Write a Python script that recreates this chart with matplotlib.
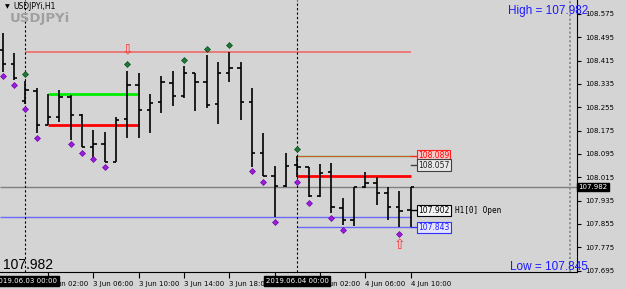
import numpy as np
import matplotlib
matplotlib.use("Agg")
import matplotlib.pyplot as plt

# H1 bars, index 0 = 2019.06.03 00:00
bar_idx = list(range(-2, 35))
opens = [108.450, 108.404, 108.278, 108.312, 108.194, 108.223, 108.291, 108.229, 108.120, 108.128,
         108.069, 108.214, 108.332, 108.246, 108.272, 108.339, 108.295, 108.372, 108.343, 108.266,
         108.372, 108.389, 108.274, 108.097, 108.020, 107.985, 108.057, 108.052, 107.951, 108.033,
         107.909, 107.869, 107.983, 107.997, 107.962, 107.914, 107.902]
highs = [108.509, 108.440, 108.345, 108.320, 108.301, 108.314, 108.297, 108.232, 108.177, 108.171,
         108.223, 108.381, 108.372, 108.301, 108.362, 108.381, 108.397, 108.372, 108.434, 108.409,
         108.446, 108.411, 108.320, 108.166, 108.054, 108.097, 108.089, 108.052, 108.061, 108.063,
         107.943, 107.983, 108.032, 108.015, 107.981, 107.968, 107.982]
lows = [108.376, 108.349, 108.266, 108.166, 108.194, 108.206, 108.143, 108.120, 108.080, 108.069,
        108.069, 108.149, 108.149, 108.168, 108.237, 108.260, 108.286, 108.243, 108.252, 108.197,
        108.343, 108.212, 108.051, 108.021, 107.878, 107.983, 108.017, 107.949, 107.949, 107.892,
        107.852, 107.848, 107.977, 107.920, 107.869, 107.843, 107.845]
closes = [108.404, 108.355, 108.313, 108.194, 108.221, 108.291, 108.229, 108.120, 108.128, 108.069,
          108.212, 108.332, 108.246, 108.271, 108.343, 108.295, 108.372, 108.343, 108.263, 108.372,
          108.389, 108.274, 108.099, 108.021, 107.985, 108.054, 108.050, 107.951, 108.031, 107.914,
          107.869, 107.981, 107.995, 107.962, 107.914, 107.900, 107.982]

# marker dots
up_idx = [0, 9, 14, 16, 18, 24]
up_val = [108.368, 108.403, 108.416, 108.455, 108.469, 108.111]
dn_idx = [-2, -1, 0, 1, 4, 5, 6, 7, 20, 21, 22, 24, 25, 27, 28, 33]
dn_val = [108.362, 108.332, 108.248, 108.151, 108.129, 108.097, 108.078, 108.051, 108.037, 108.000,
          107.862, 108.000, 107.928, 107.875, 107.834, 107.821]

# arrows
arrow_dn = (9, 108.452)
arrow_up = (33, 107.783)

# levels
day_high = 108.446
day_low = 107.878
range_hi, range_lo = 108.301, 108.194
today_hi, today_lo = 108.089, 108.018
today_open = 108.057
bar_open = 107.902
low_level = 107.843
price = 107.982
bar_high, bar_low = 107.982, 107.845

yticks = [108.575, 108.495, 108.415, 108.335, 108.255, 108.175, 108.095, 108.015,
          107.935, 107.855, 107.775, 107.695]
xtick_idx = [2, 6, 10, 14, 18, 22, 26, 30, 34]
xtick_lbl = ['3 Jun 02:00', '3 Jun 06:00', '3 Jun 10:00', '3 Jun 14:00', '3 Jun 18:00',
             '3 Jun 22:00', '4 Jun 02:00', '4 Jun 06:00', '4 Jun 10:00']
sep_idx = [0, 24]
sep_lbl = ['2019.06.03 00:00', '2019.06.04 00:00']

bg = '#d4d4d4'
fig = plt.figure(figsize=(6.25, 2.89), dpi=100, facecolor=bg)
ax = fig.add_axes([0, 17 / 289, 577 / 625, 272 / 289])
ax.set_facecolor(bg)
ax.set_xlim(-2.233, 48.69)
ax.set_ylim(107.6904, 108.623)

for s in ['top', 'left']:
    ax.spines[s].set_visible(False)
ax.spines['right'].set_color('black')
ax.spines['bottom'].set_color('black')

x = np.array(bar_idx, dtype=float)
last = x[-1]

# horizontal levels
ax.hlines(day_high, 0, last, color='#f06a6a', lw=1.2, zorder=1)
ax.hlines(day_low, -2.233, last, color='#6a6aff', lw=1.0, zorder=1)
ax.hlines(price, -2.233, 48.69, color='#808080', lw=1.0, zorder=1)
ax.hlines(range_hi, 2, 10, color='#00ee00', lw=2.0, zorder=2)
ax.hlines(range_lo, 2, 10, color='#ff0000', lw=2.0, zorder=2)
ax.hlines(today_hi, 24, last, color='#60a020', lw=1.0, zorder=2)
ax.hlines(today_hi - 0.002, 24, last, color='#e05030', lw=0.6, zorder=2)
ax.hlines(today_lo, 24, last, color='#ff0000', lw=2.0, zorder=2)
ax.hlines(low_level, 24, last, color='#6a6aff', lw=1.0, zorder=1)

# period separators and shift marker
for s in sep_idx:
    ax.axvline(s, color='black', lw=0.8, ls=(0, (2, 2)), zorder=1)
ax.axvline(48.1, color='#8a8a8a', lw=1.3, ls=(0, (1.2, 1.2)), zorder=1)

# OHLC bars
tk = 0.3
ax.vlines(x, lows, highs, color='black', lw=1.2, zorder=3)
ax.hlines(opens, x - tk, x, color='black', lw=1.2, zorder=3)
ax.hlines(closes, x, x + tk, color='black', lw=1.2, zorder=3)

ax.scatter(up_idx, up_val, marker='D', s=9, color='#1f7a3a', edgecolors='#0a4a1a', lw=0.5, zorder=4)
ax.scatter(dn_idx, dn_val, marker='D', s=9, color='#9a20d8', edgecolors='#7000b0', lw=0.5, zorder=4)

ax.text(arrow_dn[0], arrow_dn[1], '\u21e9', color='#ff3030', fontsize=10, ha='center', va='center', zorder=4)
ax.text(arrow_up[0], arrow_up[1], '\u21e7', color='#ff3030', fontsize=10, ha='center', va='center', zorder=4)

# right-side labels
lx = last + 0.66
labels = [(today_hi, '108.089', '#ff0000', '#ffc8c8', '#ff2020'),
          (today_open, '108.057', '#202020', '#e8e8e8', '#404040'),
          (bar_open, '107.902', '#000000', '#f4f4f4', '#000000'),
          (low_level, '107.843', '#2020ff', '#e4e4ff', '#3030ff')]
for val, txt, tc, fc, ec in labels:
    ax.plot([last, lx], [val, val], color=ec, lw=1.0, zorder=3)
    ax.text(lx, val, txt, color=tc, fontsize=5.5, ha='left', va='center', zorder=5,
            bbox=dict(boxstyle='square,pad=0.15', facecolor=fc, edgecolor=ec, lw=0.8))
ax.text(37.9, bar_open, 'H1[0] Open', family='DejaVu Sans Mono', fontsize=5.5,
        ha='left', va='center', color='black')

# axes ticks
ax.yaxis.tick_right()
ax.set_yticks(yticks)
ax.set_yticklabels([f'{v:.3f}' for v in yticks], fontsize=5, family='DejaVu Sans')
ax.tick_params(axis='y', length=3, pad=3, color='black')
ax.set_xticks(xtick_idx)
ax.set_xticklabels(xtick_lbl, fontsize=5, ha='left')
ax.tick_params(axis='x', length=4, pad=2.5, color='black')

# current price box on the price axis
ax.text(1.002, price, '107.982', transform=ax.get_yaxis_transform(), fontsize=5,
        color='white', ha='left', va='center', zorder=6, clip_on=False,
        bbox=dict(boxstyle='square,pad=0.2', facecolor='black', edgecolor='black'))

# separator date labels (drawn over the time labels, as in the terminal)
for s, lb in zip(sep_idx, sep_lbl):
    ax.text(s, -0.033, lb, transform=ax.get_xaxis_transform(), fontsize=5,
            color='white', ha='center', va='center', zorder=6, clip_on=False,
            bbox=dict(boxstyle='square,pad=0.25', facecolor='black', edgecolor='black'))

# titles and info text
ax.text(0.008, 0.975, '\u25bc', transform=ax.transAxes, fontsize=4.5, ha='left', va='center')
ax.text(0.024, 0.975, 'USDJPYi,H1', transform=ax.transAxes, fontsize=5.5, ha='left', va='center')
ax.text(0.017, 0.932, 'USDJPYi', transform=ax.transAxes, fontsize=9.5, fontweight='bold',
        family=['Liberation Sans Narrow', 'DejaVu Sans'], color='#a0a0a0', ha='left', va='center')
ax.text(588 / 577, 1 - 14 / 272, 'High = 107.982', transform=ax.transAxes, fontsize=8.5,
        family='Liberation Sans', color='#1a1aff', ha='right', va='baseline', clip_on=False)
ax.text(588 / 577, 1 - 270 / 272, 'Low = 107.845', transform=ax.transAxes, fontsize=8.5,
        family='Liberation Sans', color='#1a1aff', ha='right', va='baseline', clip_on=False)
ax.text(3 / 577, 1 - 269 / 272, '107.982', transform=ax.transAxes, fontsize=10,
        family='Liberation Sans', color='black', ha='left', va='baseline')

fig.savefig('out.png', dpi=100, facecolor=bg)
